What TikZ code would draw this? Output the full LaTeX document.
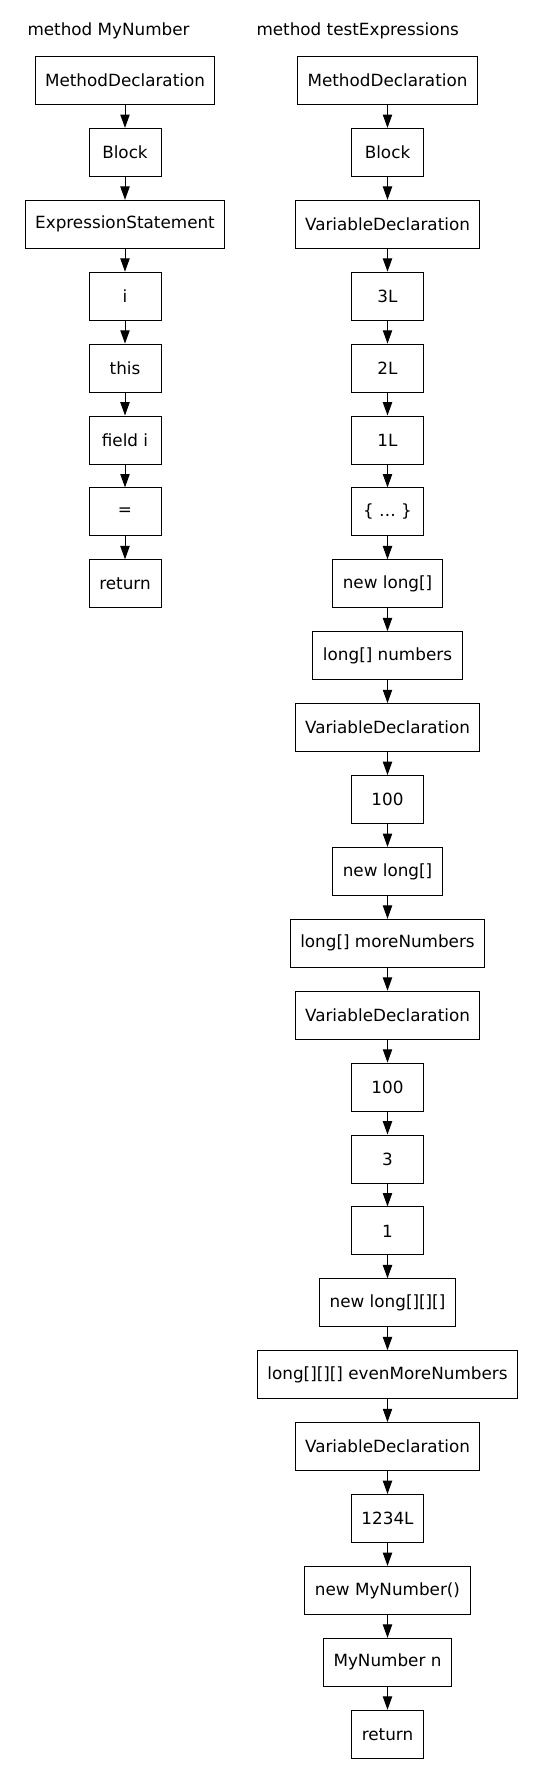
\documentclass[tikz,border=0pt]{standalone}
\usepackage{fontspec}
\setmainfont{DejaVu Sans}
\usetikzlibrary{arrows.meta}
\tikzset{
  astnode/.style={rectangle, draw, line width=0.75pt, minimum width=54pt, minimum height=36pt, inner xsep=7.5pt, inner ysep=2pt},
  title/.style={anchor=west, inner sep=0pt},
}
\begin{document}
\begin{tikzpicture}[x=0.75pt, y=-0.75pt, font=\fontsize{12.6}{14}\selectfont,
    >={Triangle[length=10pt, width=7pt]}, line width=0.75pt]
  \useasboundingbox (0,0) rectangle (547,1788);
  % headings
  \node[title] (H1) at (27,  31) {method MyNumber};
  \node[title] (H2) at (256, 31) {method testExpressions};
  % left column: MyNumber
  \node[astnode] (M1) at (125,   80.5) {MethodDeclaration};
  \node[astnode] (M2) at (125,  152.4) {Block};
  \node[astnode] (M3) at (125,  224.3) {ExpressionStatement};
  \node[astnode] (M4) at (125,  296.2) {i};
  \node[astnode] (M5) at (125,  368.1) {this};
  \node[astnode] (M6) at (125,  440.0) {field i};
  \node[astnode] (M7) at (125,  511.9) {=};
  \node[astnode] (M8) at (125,  583.8) {return};
  % right column: testExpressions
  \node[astnode] (T1)  at (387.5,   80.5) {MethodDeclaration};
  \node[astnode] (T2)  at (387.5,  152.4) {Block};
  \node[astnode] (T3)  at (387.5,  224.3) {VariableDeclaration};
  \node[astnode] (T4)  at (387.5,  296.2) {3L};
  \node[astnode] (T5)  at (387.5,  368.1) {2L};
  \node[astnode] (T6)  at (387.5,  440.0) {1L};
  \node[astnode] (T7)  at (387.5,  511.9) {\{ … \}};
  \node[astnode] (T8)  at (387.5,  583.8) {new long[]};
  \node[astnode] (T9)  at (387.5,  655.7) {long[] numbers};
  \node[astnode] (T10) at (387.5,  727.6) {VariableDeclaration};
  \node[astnode] (T11) at (387.5,  799.5) {100};
  \node[astnode] (T12) at (387.5,  871.4) {new long[]};
  \node[astnode] (T13) at (387.5,  943.3) {long[] moreNumbers};
  \node[astnode] (T14) at (387.5, 1015.2) {VariableDeclaration};
  \node[astnode] (T15) at (387.5, 1087.1) {100};
  \node[astnode] (T16) at (387.5, 1159.0) {3};
  \node[astnode] (T17) at (387.5, 1230.9) {1};
  \node[astnode] (T18) at (387.5, 1302.8) {new long[][][]};
  \node[astnode] (T19) at (387.5, 1374.7) {long[][][] evenMoreNumbers};
  \node[astnode] (T20) at (387.5, 1446.6) {VariableDeclaration};
  \node[astnode] (T21) at (387.5, 1518.5) {1234L};
  \node[astnode] (T22) at (387.5, 1590.4) {new MyNumber()};
  \node[astnode] (T23) at (387.5, 1662.3) {MyNumber n};
  \node[astnode] (T24) at (387.5, 1734.2) {return};
  % edges, left
  \draw[->] (M1) -- (M2);
  \draw[->] (M2) -- (M3);
  \draw[->] (M3) -- (M4);
  \draw[->] (M4) -- (M5);
  \draw[->] (M5) -- (M6);
  \draw[->] (M6) -- (M7);
  \draw[->] (M7) -- (M8);
  % edges, right
  \draw[->] (T1) -- (T2);
  \draw[->] (T2) -- (T3);
  \draw[->] (T3) -- (T4);
  \draw[->] (T4) -- (T5);
  \draw[->] (T5) -- (T6);
  \draw[->] (T6) -- (T7);
  \draw[->] (T7) -- (T8);
  \draw[->] (T8) -- (T9);
  \draw[->] (T9) -- (T10);
  \draw[->] (T10) -- (T11);
  \draw[->] (T11) -- (T12);
  \draw[->] (T12) -- (T13);
  \draw[->] (T13) -- (T14);
  \draw[->] (T14) -- (T15);
  \draw[->] (T15) -- (T16);
  \draw[->] (T16) -- (T17);
  \draw[->] (T17) -- (T18);
  \draw[->] (T18) -- (T19);
  \draw[->] (T19) -- (T20);
  \draw[->] (T20) -- (T21);
  \draw[->] (T21) -- (T22);
  \draw[->] (T22) -- (T23);
  \draw[->] (T23) -- (T24);
\end{tikzpicture}
\end{document}
